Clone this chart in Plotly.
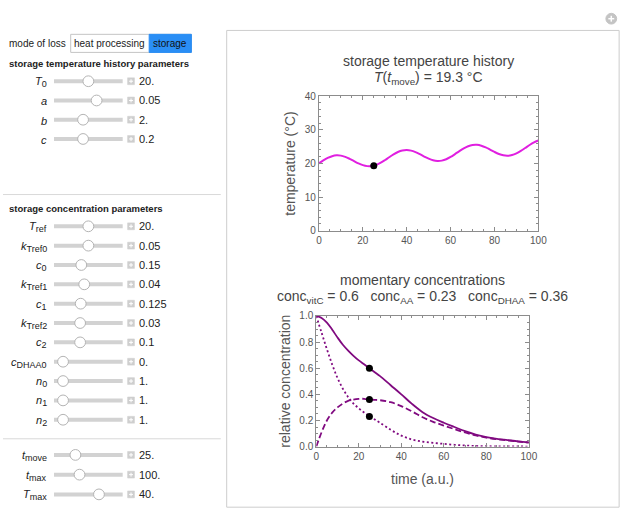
import plotly.graph_objects as go

# ---------------- data ----------------
temp_time = list(range(0, 101, 2))
temp_values = [20.00, 20.88, 21.63, 22.16, 22.40, 22.32, 21.95, 21.37, 20.68, 20.01,
               19.49, 19.20, 19.21, 19.53, 20.14, 20.94, 21.83, 22.69, 23.39, 23.84,
               23.98, 23.81, 23.37, 22.75, 22.05, 21.41, 20.94, 20.74, 20.84, 21.25,
               21.93, 22.77, 23.66, 24.48, 25.12, 25.48, 25.53, 25.27, 24.77, 24.11,
               23.42, 22.82, 22.42, 22.31, 22.50, 23.00, 23.73, 24.60, 25.49, 26.26,
               26.83]

conc_time = [0, 2.5, 5, 7.5, 10, 12.5, 15, 17.5, 20, 22.5, 25, 27.5, 30, 35, 40, 45,
             50, 55, 60, 65, 70, 75, 80, 85, 90, 95, 100]
conc_vitc = [1.0, 0.985, 0.95, 0.895, 0.835, 0.78, 0.735, 0.695, 0.66, 0.63, 0.60,
             0.57, 0.54, 0.47, 0.40, 0.327, 0.264, 0.219, 0.183, 0.15, 0.118, 0.092,
             0.073, 0.06, 0.05, 0.04, 0.032]
conc_aa = [1.0, 0.872, 0.746, 0.628, 0.525, 0.443, 0.379, 0.330, 0.293, 0.261, 0.234,
           0.207, 0.182, 0.129, 0.084, 0.054, 0.038, 0.029, 0.021, 0.014, 0.0085, 0.005,
           0.003, 0.002, 0.0015, 0.001, 0.0005]
conc_dhaa = [0.0, 0.11, 0.20, 0.26, 0.30, 0.33, 0.35, 0.36, 0.365, 0.366, 0.36, 0.358,
             0.355, 0.34, 0.31, 0.27, 0.225, 0.19, 0.161, 0.134, 0.108, 0.086, 0.069,
             0.057, 0.048, 0.039, 0.031]

t_move = 25
temp_at_move = 19.3
move_names = ["vitC", "AA", "DHAA"]
move_values = [0.6, 0.23, 0.36]

temp_ticks = [0, 10, 20, 30, 40]
conc_ticks = [0.0, 0.2, 0.4, 0.6, 0.8, 1.0]
time_ticks = [0, 20, 40, 60, 80, 100]

# slider panel content: (symbol, subscript, value text, knob fraction)
temp_params = [("T", "0", "20.", 0.50),
               ("a", "", "0.05", 0.64),
               ("b", "", "2.", 0.41),
               ("c", "", "0.2", 0.41)]
conc_params = [("T", "ref", "20.", 0.50),
               ("k", "Tref0", "0.05", 0.50),
               ("c", "0", "0.15", 0.38),
               ("k", "Tref1", "0.04", 0.43),
               ("c", "1", "0.125", 0.37),
               ("k", "Tref2", "0.03", 0.36),
               ("c", "2", "0.1", 0.36),
               ("c", "DHAA0", "0.", 0.07),
               ("n", "0", "1.", 0.07),
               ("n", "1", "1.", 0.07),
               ("n", "2", "1.", 0.07)]
range_params = [("t", "move", "25.", 0.28),
                ("t", "max", "100.", 0.35),
                ("T", "max", "40.", 0.68)]

# ---------------- helpers ----------------
W, H = 635, 521
FONT = "Liberation Sans, Arial, Helvetica, sans-serif"


def fx(x):
    return x / W


def fy(y):
    return 1 - y / H


shapes = []
annotations = []


def text(x, y, s, size=11, color="#222", xanchor="left", yanchor="middle", textangle=0):
    annotations.append(dict(x=fx(x), y=fy(y), xref="paper", yref="paper", text=s,
                            showarrow=False, xanchor=xanchor, yanchor=yanchor,
                            textangle=textangle, borderpad=0,
                            font=dict(size=size, color=color, family=FONT)))


def rect(x0, y0, x1, y1, fill=None, line="#ccc", lw=1):
    shapes.append(dict(type="rect", xref="paper", yref="paper",
                       x0=fx(x0), x1=fx(x1), y0=fy(y1), y1=fy(y0),
                       fillcolor=fill if fill else "rgba(0,0,0,0)",
                       line=dict(color=line, width=lw), layer="above"))


def line(x0, y0, x1, y1, color="#ccc", lw=1):
    shapes.append(dict(type="line", xref="paper", yref="paper",
                       x0=fx(x0), x1=fx(x1), y0=fy(y0), y1=fy(y1),
                       line=dict(color=color, width=lw), layer="above"))


def circle(cx, cy, r, fill="white", line_c="#aaa", lw=1):
    shapes.append(dict(type="circle", xref="paper", yref="paper",
                       x0=fx(cx - r), x1=fx(cx + r), y0=fy(cy + r), y1=fy(cy - r),
                       fillcolor=fill, line=dict(color=line_c, width=lw), layer="above"))


def slider_row(y, sym, sub, value, frac):
    label = "<i>%s</i>" % sym
    if sub:
        label += "<sub><span style='font-size:9px'>%s</span></sub>" % sub
    text(46, y + 1, label, size=11, color="#222", xanchor="right")
    x0, x1 = 52, 122
    line(x0, y, x1, y, color="#d2d2d2", lw=4)
    kx = x0 + 5 + frac * (x1 - x0 - 10)
    circle(kx, y, 5.5, fill="white", line_c="#b4b4b4", lw=1)
    # plus box
    rect(127, y - 3.5, 134, y + 3.5, fill="#cfcfcf", line="#cfcfcf", lw=0.5)
    line(128.5, y, 132.5, y, color="white", lw=1)
    line(130.5, y - 2, 130.5, y + 2, color="white", lw=1)
    text(138, y, value, size=11, color="#222")


# ---------------- control panel ----------------
text(5, 38, "mode of loss", size=10, color="#222")
rect(69, 29, 192, 47.5, fill="white", line="#c4c4c4")
rect(149, 29, 192, 47.5, fill="#2a8ef5", line="#2a8ef5")
text(109, 38, "heat processing", size=10, color="#222", xanchor="center")
text(170.5, 38, "storage", size=10, color="#111", xanchor="center")

text(5, 58.5, "<b>storage temperature history parameters</b>", size=9.5, color="#222")
for i, (sym, sub, val, fr) in enumerate(temp_params):
    slider_row(77 + i * 19.7, sym, sub, val, fr)

line(0, 193, 222, 193, color="#d9d9d9", lw=1)
text(5, 207.5, "<b>storage concentration parameters</b>", size=9.5, color="#222")
for i, (sym, sub, val, fr) in enumerate(conc_params):
    slider_row(225.5 + i * 19.8, sym, sub, val, fr)

line(0, 443, 222, 443, color="#d9d9d9", lw=1)
for i, (sym, sub, val, fr) in enumerate(range_params):
    slider_row(459.5 + i * 20.2, sym, sub, val, fr)

# right panel frame + corner icon
rect(228, 25, 628, 513, line="#cdcdcd", lw=1)
circle(620, 13, 5.5, fill="#c4c4c4", line_c="#c4c4c4")
line(617, 13, 623, 13, color="white", lw=1.5)
line(620, 10, 620, 16, color="white", lw=1.5)

# ---------------- plots ----------------
fig = go.Figure()
fig.add_trace(go.Scatter(x=temp_time, y=temp_values, mode="lines",
                         line=dict(color="#e01fe0", width=2, shape="spline"),
                         xaxis="x", yaxis="y", hoverinfo="skip"))
fig.add_trace(go.Scatter(x=[t_move], y=[temp_at_move], mode="markers",
                         marker=dict(color="black", size=7),
                         xaxis="x", yaxis="y", hoverinfo="skip"))

purple = "#800a80"
fig.add_trace(go.Scatter(x=conc_time, y=conc_vitc, mode="lines",
                         line=dict(color=purple, width=1.8, shape="spline", smoothing=1.0),
                         xaxis="x2", yaxis="y2", hoverinfo="skip"))
fig.add_trace(go.Scatter(x=conc_time, y=conc_dhaa, mode="lines",
                         line=dict(color=purple, width=1.8, shape="spline", smoothing=1.0,
                                   dash="6px,3px"),
                         xaxis="x2", yaxis="y2", hoverinfo="skip"))
fig.add_trace(go.Scatter(x=conc_time, y=conc_aa, mode="lines",
                         line=dict(color=purple, width=1.8, shape="spline", smoothing=1.0,
                                   dash="2px,2.5px"),
                         xaxis="x2", yaxis="y2", hoverinfo="skip"))
fig.add_trace(go.Scatter(x=[t_move] * len(move_values), y=move_values, mode="markers",
                         marker=dict(color="black", size=7),
                         xaxis="x2", yaxis="y2", hoverinfo="skip"))

frame_c = "#8c8c8c"
common = dict(showline=True, linecolor=frame_c, linewidth=1, mirror="allticks",
              ticks="inside", ticklen=4, tickcolor=frame_c, tickwidth=1,
              tickfont=dict(size=10, color="#555", family=FONT),
              showgrid=False, zeroline=False, fixedrange=True)

# plot titles and axis titles
title_c = "#444"
text(434, 56, "storage temperature history", size=14, color=title_c, xanchor="center")
text(434, 73.5, "<i>T</i>(<i>t</i><sub>move</sub>) = %.1f °C" % temp_at_move,
     size=14, color=title_c, xanchor="center")
text(293, 161, "temperature (°C)", size=14, color="#555", xanchor="center", textangle=-90)

text(428, 280, "momentary concentrations", size=14, color=title_c, xanchor="center")
conc_line = "   ".join("conc<sub>%s</sub> = %s" % (n, ("%.2f" % v).rstrip("0").rstrip("."))
                       for n, v in zip(move_names, move_values))
text(428, 298, conc_line, size=14, color=title_c, xanchor="center")
text(288, 384, "relative concentration", size=14, color="#555", xanchor="center", textangle=-90)
text(428, 484, "time (a.u.)", size=14, color="#555", xanchor="center")

fig.update_layout(
    width=W, height=H, margin=dict(l=0, r=0, t=0, b=0, pad=0),
    paper_bgcolor="white", plot_bgcolor="white", showlegend=False,
    font=dict(family=FONT),
    xaxis=dict(domain=[fx(322), fx(545.7)], range=[0, 100], tickvals=time_ticks,
               minor=dict(dtick=5, ticks="inside", ticklen=2, tickcolor=frame_c),
               anchor="y", **common),
    yaxis=dict(domain=[fy(230), fy(92.3)], range=[0, 40], tickvals=temp_ticks,
               minor=dict(dtick=2, ticks="inside", ticklen=2, tickcolor=frame_c),
               anchor="x", **common),
    xaxis2=dict(domain=[fx(319.3), fx(536)], range=[0, 100], tickvals=time_ticks,
                minor=dict(dtick=5, ticks="inside", ticklen=2, tickcolor=frame_c),
                anchor="y2", **common),
    yaxis2=dict(domain=[fy(451), fy(317.3)], range=[0, 1], tickvals=conc_ticks,
                tickformat=".1f",
                minor=dict(dtick=0.05, ticks="inside", ticklen=2, tickcolor=frame_c),
                anchor="x2", **common),
    shapes=shapes, annotations=annotations,
)

fig.write_html("out.html", config={"displayModeBar": False, "responsive": False},
               post_script="document.body.style.margin='0';document.body.style.overflow='hidden';"
                           "document.documentElement.style.overflow='hidden';")
